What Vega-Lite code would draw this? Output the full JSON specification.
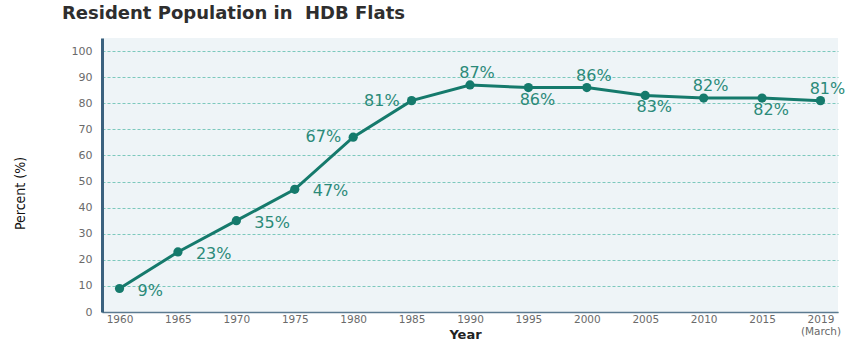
{
  "$schema": "https://vega.github.io/schema/vega-lite/v6.json",
  "width": 736,
  "height": 274,
  "autosize": {"type": "none"},
  "padding": {"left": 102, "top": 38, "right": 14, "bottom": 30},
  "background": "#ffffff",
  "title": {
    "text": "Resident Population in \u00a0HDB Flats",
    "anchor": "start",
    "frame": "group",
    "dx": -40,
    "offset": 15,
    "font": "DejaVu Sans",
    "fontSize": 18,
    "fontWeight": "bold",
    "color": "#2e2e2e"
  },
  "config": {
    "view": {"fill": "#eef4f7", "stroke": null},
    "font": "DejaVu Sans"
  },
  "data": {
    "values": [
      {"year": "1960", "pct": 9, "lab": "9%"},
      {"year": "1965", "pct": 23, "lab": "23%"},
      {"year": "1970", "pct": 35, "lab": "35%"},
      {"year": "1975", "pct": 47, "lab": "47%"},
      {"year": "1980", "pct": 67, "lab": "67%"},
      {"year": "1985", "pct": 81, "lab": "81%"},
      {"year": "1990", "pct": 87, "lab": "87%"},
      {"year": "1995", "pct": 86, "lab": "86%"},
      {"year": "2000", "pct": 86, "lab": "86%"},
      {"year": "2005", "pct": 83, "lab": "83%"},
      {"year": "2010", "pct": 82, "lab": "82%"},
      {"year": "2015", "pct": 82, "lab": "82%"},
      {"year": "2019", "pct": 81, "lab": "81%"}
    ]
  },
  "encoding": {
    "x": {
      "field": "year",
      "type": "ordinal",
      "sort": null,
      "scale": {"type": "point", "padding": 0.3},
      "axis": {
        "title": "Year",
        "titleFont": "DejaVu Sans",
        "titleFontSize": 13,
        "titleFontWeight": "bold",
        "titleColor": "#222222",
        "titlePadding": 0,
        "titleX": 363,
        "titleY": 16,
        "titleBaseline": "top",
        "labelAngle": 0,
        "labelFontSize": 10.5,
        "labelColor": "#6a6a6a",
        "labelPadding": 2,
        "labelLineHeight": 12,
        "labelExpr": "datum.value == '2019' ? ['2019', '(March)'] : datum.value",
        "ticks": false,
        "domainColor": "#5b7a90",
        "domainWidth": 1.5,
        "grid": false
      }
    },
    "y": {
      "field": "pct",
      "type": "quantitative",
      "scale": {"domain": [0, 105], "nice": false, "zero": true},
      "axis": {
        "title": "Percent (%)",
        "titleFont": "DejaVu Sans Condensed, Liberation Sans Narrow, Roboto",
        "titleFontSize": 14,
        "titleFontWeight": "normal",
        "titleColor": "#111111",
        "titleX": -82,
        "titleY": 155,
        "titleAngle": -90,
        "titleAlign": "center",
        "titleBaseline": "middle",
        "values": [0, 10, 20, 30, 40, 50, 60, 70, 80, 90, 100],
        "labelFontSize": 11,
        "labelColor": "#6a6a6a",
        "labelPadding": 10,
        "ticks": false,
        "domainColor": "#3b627f",
        "domainWidth": 3,
        "grid": true,
        "gridColor": "#7cc9bd",
        "gridDash": [3, 2],
        "gridWidth": 1
      }
    }
  },
  "layer": [
    {
      "mark": {"type": "line", "color": "#157a6c", "strokeWidth": 3}
    },
    {
      "mark": {"type": "circle", "color": "#157a6c", "opacity": 1, "size": 85}
    },
    {
      "transform": [{"filter": "indexof(['1960','1965','1970','1975'], datum.year) >= 0"}],
      "mark": {"type": "text", "align": "left", "baseline": "middle", "dx": 18, "dy": 2, "fontSize": 16, "color": "#2b8a79"},
      "encoding": {"text": {"field": "lab", "type": "nominal"}}
    },
    {
      "transform": [{"filter": "indexof(['1980','1985'], datum.year) >= 0"}],
      "mark": {"type": "text", "align": "right", "baseline": "middle", "dx": -12, "dy": 0, "fontSize": 16, "color": "#2b8a79"},
      "encoding": {"text": {"field": "lab", "type": "nominal"}}
    },
    {
      "transform": [{"filter": "indexof(['1990','2000','2010','2019'], datum.year) >= 0"}],
      "mark": {"type": "text", "align": "center", "baseline": "middle", "dx": 7, "dy": -12, "fontSize": 16, "color": "#2b8a79"},
      "encoding": {"text": {"field": "lab", "type": "nominal"}}
    },
    {
      "transform": [{"filter": "indexof(['1995','2005','2015'], datum.year) >= 0"}],
      "mark": {"type": "text", "align": "center", "baseline": "middle", "dx": 9, "dy": 12, "fontSize": 16, "color": "#2b8a79"},
      "encoding": {"text": {"field": "lab", "type": "nominal"}}
    }
  ]
}
